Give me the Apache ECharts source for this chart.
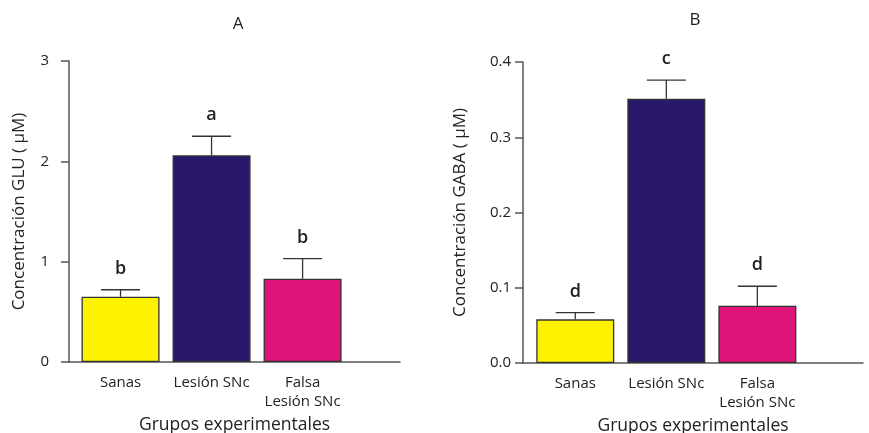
<!DOCTYPE html>
<html>
<head>
<meta charset="utf-8">
<script src="https://cdn.jsdelivr.net/npm/echarts@6/dist/echarts.min.js"></script>
<style>
html, body { margin: 0; padding: 0; background: #fff; }
#main { width: 869px; height: 433px; }
</style>
</head>
<body>
<div id="main"></div>
<script>
var categories = ['Sanas', 'Lesión SNc', 'Falsa\nLesión SNc'];
var colors = ['#fff200', '#2a186c', '#de1479'];

// panel A: glutamato
var gluMean = [0.65, 2.06, 0.83];
var gluTop = [0.72, 2.25, 1.03];
var gluLetters = ['b', 'a', 'b'];

// panel B: GABA
var gabaMean = [0.058, 0.351, 0.076];
var gabaTop = [0.067, 0.376, 0.102];
var gabaLetters = ['d', 'c', 'd'];

var font = '"Open Sans", Lato, sans-serif';
var ink = '#222';
var axisColor = '#555';

function barData(mean) {
    return mean.map(function (v, i) {
        return { value: [i + 1, v], itemStyle: { color: colors[i] } };
    });
}

function errData(mean, top) {
    return mean.map(function (v, i) { return [i + 1, v, top[i]]; });
}

function errRender(letters) {
    return function (params, api) {
        var x = api.value(0);
        var p0 = api.coord([x, api.value(1)]);
        var p1 = api.coord([x, api.value(2)]);
        var st = { stroke: '#333', lineWidth: 1.3 };
        return {
            type: 'group',
            children: [
                { type: 'line', shape: { x1: p0[0], y1: p0[1], x2: p1[0], y2: p1[1] }, style: st },
                { type: 'line', shape: { x1: p1[0] - 19.5, y1: p1[1], x2: p1[0] + 19.5, y2: p1[1] }, style: st },
                {
                    type: 'text',
                    style: {
                        text: letters[params.dataIndex], x: p1[0], y: p1[1] - 21,
                        align: 'center', verticalAlign: 'middle',
                        font: '600 18px ' + font, fill: ink
                    }
                }
            ]
        };
    };
}

function xAxis(idx, min, max) {
    return {
        type: 'value', gridIndex: idx, min: min, max: max,
        name: 'Grupos experimentales', nameLocation: 'middle', nameGap: 50,
        nameTextStyle: { fontFamily: font, fontSize: 17.5, color: ink },
        axisLine: { lineStyle: { color: axisColor, width: 1.5 } },
        axisTick: { show: false },
        splitLine: { show: false },
        axisLabel: {
            customValues: [1, 2, 3], margin: 11, lineHeight: 19,
            fontFamily: font, fontSize: 15, color: ink,
            formatter: function (v) { return categories[Math.round(v) - 1]; }
        }
    };
}

function yAxis(idx, max, interval, name, gap, margin, dec) {
    return {
        type: 'value', gridIndex: idx, min: 0, max: max, interval: interval,
        name: name, nameLocation: 'middle', nameGap: gap,
        nameTextStyle: { fontFamily: font, fontSize: 17, color: ink },
        axisLine: { show: true, lineStyle: { color: axisColor, width: 1.5 } },
        axisTick: { show: true, length: 8, lineStyle: { color: axisColor, width: 1.5 } },
        splitLine: { show: false },
        axisLabel: {
            margin: margin, fontFamily: font, fontSize: 15, color: ink,
            formatter: function (v) { return v.toFixed(dec); }
        }
    };
}

var option = {
    backgroundColor: '#fff',
    animation: false,
    title: [
        { text: 'A', left: 233, top: 11, textAlign: 'center',
          textStyle: { fontFamily: font, fontSize: 17, fontWeight: 'normal', color: ink } },
        { text: 'B', left: 690, top: 7, textAlign: 'center',
          textStyle: { fontFamily: font, fontSize: 17, fontWeight: 'normal', color: ink } }
    ],
    grid: [
        { left: 69, top: 61, width: 331, height: 301, outerBoundsMode: 'none' },
        { left: 523, top: 62, width: 340, height: 301, outerBoundsMode: 'none' }
    ],
    xAxis: [xAxis(0, 0.434, 4.07), xAxis(1, 0.426, 4.16)],
    yAxis: [
        yAxis(0, 3, 1, 'Concentración GLU ( µM)', 41, 20, 0),
        yAxis(1, 0.4, 0.1, 'Concentración GABA ( µM)', 54, 12, 1)
    ],
    series: [
        { type: 'bar', xAxisIndex: 0, yAxisIndex: 0, barWidth: 78, data: barData(gluMean),
          itemStyle: { borderColor: '#333', borderWidth: 1.3 } },
        { type: 'custom', xAxisIndex: 0, yAxisIndex: 0, z: 3, data: errData(gluMean, gluTop),
          renderItem: errRender(gluLetters) },
        { type: 'bar', xAxisIndex: 1, yAxisIndex: 1, barWidth: 78, data: barData(gabaMean),
          itemStyle: { borderColor: '#333', borderWidth: 1.3 } },
        { type: 'custom', xAxisIndex: 1, yAxisIndex: 1, z: 3, data: errData(gabaMean, gabaTop),
          renderItem: errRender(gabaLetters) }
    ]
};

echarts.init(document.getElementById('main')).setOption(option);
</script>
</body>
</html>
